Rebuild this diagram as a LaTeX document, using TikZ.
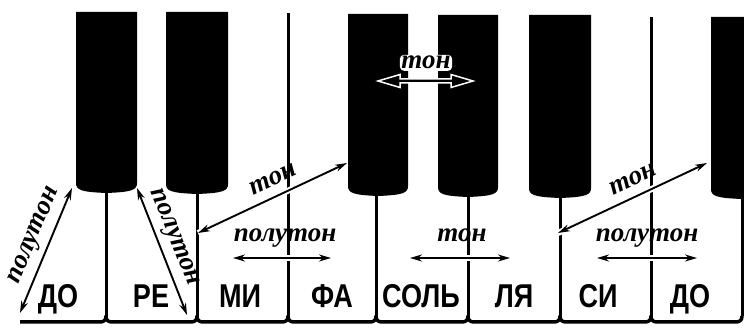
\documentclass[tikz,border=0pt]{standalone}
\usepackage{fontspec}
\setmainfont{Liberation Serif}
\setsansfont{Liberation Sans}
\usetikzlibrary{arrows.meta,calc}

\newcommand\narrowed[1]{\scalebox{0.82}[1]{#1}}

\tikzset{
  keyblack/.style={fill=black},
  divider/.style={draw=black, line width=3pt},
  outline/.style={draw=black, line width=3.5pt, line join=round},
  keyname/.style={font=\fontsize{33}{33}\selectfont\sffamily\bfseries, inner sep=0pt, anchor=base},
  note/.style={font=\fontsize{27}{27}\selectfont\bfseries\itshape, inner sep=0pt},
  arr/.style={{Stealth[length=12pt,width=7pt]}-{Stealth[length=12pt,width=7pt]},
    line width=1.9pt, preaction={draw=white, line width=6pt, -}},
}

\begin{document}
\begin{tikzpicture}[x=1pt,y=-1pt]
\useasboundingbox (0,0) rectangle (744,328);
\clip (0,0) rectangle (744,328);
\fill[white] (0,0) rectangle (744,328);

% black keys, rounded at the lower end
\foreach \l/\r/\t/\b in {76/137/12/193,166/228/12/194,348/408/14/196,
                         438/498/15/197,529/591/15/198,711/773/17/199}
  \fill[keyblack] (\l,\t) -- (\l,\b-10)
    .. controls (\l,\b-3) and (\l+5,\b-1) .. ({(\l+\r)/2},\b)
    .. controls (\r-5,\b-1) and (\r,\b-3) .. (\r,\b-10) -- (\r,\t) -- cycle;

% white key borders below the black keys
\foreach \x/\t in {106/190,197/191,376/193,468/194,560/195,742/196}
  \draw[divider] (\x,\t) -- (\x,316);
% full-length borders between E-F and B-C
\draw[divider] (288,13) -- (288,316);
\draw[divider] (651,17) -- (651,316);

% lower edge of the white keys with rounded corners
\draw[outline] (20,322)
  \foreach \x in {106,197,288,376,468,560,651} {
    -- (\x-6,322) .. controls (\x-2,322) and (\x,320) .. (\x,316)
    .. controls (\x,320) and (\x+2,322) .. (\x+6,322) }
  -- (736,322) .. controls (740,322) and (742,320) .. (742,316);

% note names
\node[keyname] (c1) at (58,308)  {\narrowed{ДО}};
\node[keyname] (d)  at (151,308) {\narrowed{РЕ}};
\node[keyname] (e)  at (240,308) {\narrowed{МИ}};
\node[keyname] (f)  at (332,308) {\narrowed{ФА}};
\node[keyname] (g)  at (421,308) {\narrowed{СОЛЬ}};
\node[keyname] (a)  at (514,308) {\narrowed{ЛЯ}};
\node[keyname] (b)  at (598,308) {\narrowed{СИ}};
\node[keyname] (c2) at (690,308) {\narrowed{ДО}};

% arrow end points
\coordinate (a1s) at (20,313);  \coordinate (a1e) at (72,188);
\coordinate (a2s) at (137,188); \coordinate (a2e) at (187,315);
\coordinate (a3s) at (198,233); \coordinate (a3e) at (347,163);
\coordinate (a4s) at (233,258); \coordinate (a4e) at (331,258);
\coordinate (a5s) at (410,258); \coordinate (a5e) at (510,258);
\coordinate (a6s) at (558,233); \coordinate (a6e) at (707,163);
\coordinate (a7s) at (597,258); \coordinate (a7e) at (697,258);

\draw[arr] (a1s) -- (a1e);
\draw[arr] (a2s) -- (a2e);
\draw[arr] (a3s) -- (a3e);
\draw[arr] (a4s) -- (a4e);
\draw[arr] (a5s) -- (a5e);
\draw[arr] (a6s) -- (a6e);
\draw[arr] (a7s) -- (a7e);

% interval names
\node[note, rotate=67]  (l1) at (35,236)  {полутон};
\node[note, rotate=-68] (l2) at (173,238) {полутон};
\node[note, rotate=25]  (l3) at (273,179) {тон};
\node[note, anchor=base] (l4) at (285,242) {полутон};
\node[note, anchor=base] (l5) at (462,242) {тон};
\node[note, rotate=25]  (l6) at (633,179) {тон};
\node[note, anchor=base] (l7) at (647,242) {полутон};

% whole tone between the two black keys: arrow outlined in white
\coordinate (t1) at (378,81); \coordinate (t2) at (473,81);
\filldraw[fill=black, draw=white, line width=1.5pt, line join=miter]
  (t1) -- ++(22,-6.5) -- ++(0,4.5) -- ($(t2)+(-22,-2)$) -- ++(0,-4.5) -- (t2)
  -- ++(-22,6.5) -- ++(0,-4.5) -- ($(t1)+(22,2)$) -- ++(0,4.5) -- cycle;
\node[note, anchor=base, fill=white, rounded corners=4pt, inner sep=1.5pt]
  (l0) at (426,69) {тон};
\end{tikzpicture}
\end{document}
